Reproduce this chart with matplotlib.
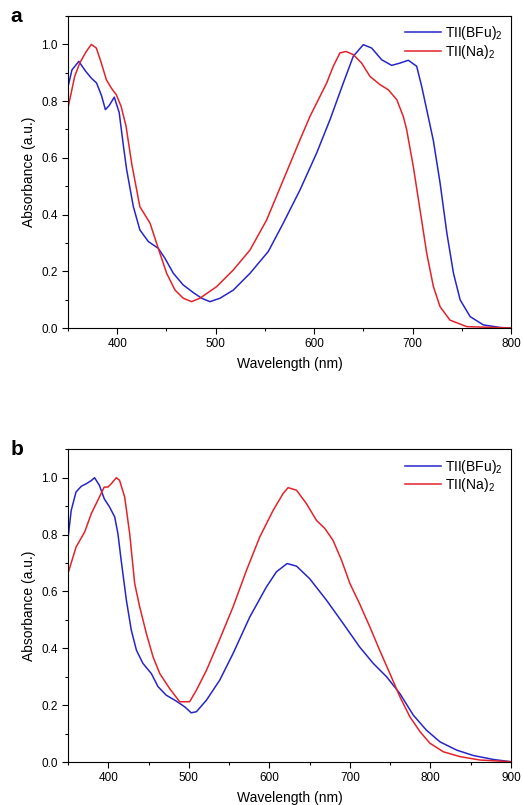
import matplotlib
matplotlib.use("Agg")
import matplotlib.pyplot as plt
from matplotlib.ticker import MultipleLocator, FormatStrFormatter

plt.rcParams['font.family'] = ['Liberation Sans', 'DejaVu Sans']
plt.rcParams['mathtext.fontset'] = 'custom'
plt.rcParams['mathtext.rm'] = 'Liberation Sans'
plt.rcParams['mathtext.it'] = 'Liberation Sans'

# panel a: solution spectra
wl_a_bfu = [350, 354, 361, 368, 374, 379, 384, 388, 392, 397, 402, 406, 409.6, 416.4, 423,
            431.6, 441.7, 448.5, 457, 467, 477.3, 485.8, 494.2, 504.4, 518, 534.9, 553.5,
            568.7, 585.7, 602.6, 616.1, 629.7, 639.8, 650, 658.5, 668.6, 678.8, 687.2,
            695.7, 704.2, 709.3, 714.4, 721.2, 728, 734.9, 741.6, 748.4, 758.6, 772, 789,
            800]
abs_a_bfu = [0.85, 0.91, 0.94, 0.905, 0.88, 0.864, 0.82, 0.77, 0.785, 0.814, 0.76, 0.65,
             0.558, 0.428, 0.346, 0.305, 0.281, 0.246, 0.193, 0.152, 0.125, 0.105, 0.093,
             0.105, 0.134, 0.193, 0.27, 0.37, 0.487, 0.617, 0.734, 0.864, 0.958, 0.999,
             0.987, 0.946, 0.926, 0.934, 0.944, 0.923, 0.852, 0.77, 0.66, 0.511, 0.334,
             0.193, 0.099, 0.04, 0.011, 0.002, 0.0]

wl_a_na = [350, 356.8, 361.9, 368.6, 373.7, 378.8, 383.9, 389, 394, 399, 404, 409, 414.7,
           423, 433.3, 441.7, 450.2, 458.7, 467.1, 475.6, 484, 501, 518, 534.9, 551.8,
           568.7, 585.7, 595.8, 604.3, 612.8, 619.5, 626.3, 632.4, 639.8, 648.3, 656.8,
           667, 675.4, 684, 690.6, 694, 700.8, 707.6, 714.4, 721.2, 728, 738, 755, 800]
abs_a_na = [0.776, 0.887, 0.934, 0.975, 1.0, 0.987, 0.934, 0.875, 0.846, 0.823, 0.781,
            0.711, 0.58, 0.428, 0.37, 0.281, 0.193, 0.134, 0.105, 0.093, 0.105, 0.146,
            0.205, 0.275, 0.381, 0.522, 0.664, 0.746, 0.805, 0.864, 0.923, 0.97, 0.975,
            0.964, 0.934, 0.887, 0.858, 0.84, 0.805, 0.746, 0.70, 0.569, 0.417, 0.264,
            0.146, 0.075, 0.028, 0.005, 0.0]

# panel b: film spectra
wl_b_bfu = [350, 354, 360, 366.6, 372.8, 379, 383, 389, 395, 401.6, 408, 412, 416, 422.5,
            428.6, 435, 443, 453.5, 461.8, 472, 484.6, 495, 503, 509.5, 522, 538.4, 555,
            575.7, 596.4, 608.8, 622, 633.7, 650, 671, 691.7, 712, 729, 745.5, 762,
            778.7, 795, 811.8, 832.5, 853, 878, 900]
abs_b_bfu = [0.786, 0.885, 0.95, 0.97, 0.979, 0.99, 1.0, 0.973, 0.926, 0.897, 0.862,
             0.803, 0.71, 0.569, 0.464, 0.393, 0.347, 0.311, 0.265, 0.235, 0.214, 0.194,
             0.173, 0.177, 0.218, 0.288, 0.382, 0.51, 0.616, 0.669, 0.698, 0.689, 0.645,
             0.569, 0.487, 0.405, 0.347, 0.3, 0.241, 0.165, 0.112, 0.071, 0.042, 0.023,
             0.009, 0.001]

wl_b_na = [350, 360, 370.7, 379, 389, 395, 399.6, 403.8, 410, 414, 420.4, 426.6, 432.8,
           439, 447.3, 455.6, 464, 476, 488.7, 501, 509.5, 522, 538, 555, 571.6, 588,
           604.7, 617, 623.3, 633.7, 646, 658.5, 669, 679, 689.6, 700, 712, 724.8, 737,
           749.7, 762, 774.5, 787, 799.4, 816, 836.6, 861.5, 900]
abs_b_na = [0.663, 0.756, 0.809, 0.874, 0.932, 0.967, 0.967, 0.979, 1.0, 0.991, 0.932,
            0.803, 0.628, 0.546, 0.452, 0.37, 0.311, 0.259, 0.212, 0.212, 0.253, 0.323,
            0.429, 0.546, 0.674, 0.791, 0.885, 0.944, 0.965, 0.956, 0.909, 0.85, 0.821,
            0.78, 0.71, 0.628, 0.557, 0.475, 0.393, 0.311, 0.23, 0.159, 0.107, 0.066,
            0.036, 0.019, 0.007, 0.001]

labels = [r'TII(BFu)$_2$', r'TII(Na)$_2$']
blue = '#2626c8'
red = '#e3222a'

fig = plt.figure(figsize=(5.23, 8.05), dpi=100)
ax1 = fig.add_axes([0.130, 0.5925, 0.847, 0.3876])
ax2 = fig.add_axes([0.130, 0.0534, 0.847, 0.3885])

panels = [(ax1, wl_a_bfu, abs_a_bfu, wl_a_na, abs_a_na, 800, 'a'),
          (ax2, wl_b_bfu, abs_b_bfu, wl_b_na, abs_b_na, 900, 'b')]

for ax, x1, y1, x2, y2, xmax, tag in panels:
    ax.plot(x1, y1, color=blue, lw=1.1, label=labels[0])
    ax.plot(x2, y2, color=red, lw=1.1, label=labels[1])
    ax.set_xlim(350, xmax)
    ax.set_ylim(0, 1.1)
    ax.xaxis.set_major_locator(MultipleLocator(100))
    ax.xaxis.set_minor_locator(MultipleLocator(50))
    ax.yaxis.set_major_locator(MultipleLocator(0.2))
    ax.yaxis.set_minor_locator(MultipleLocator(0.1))
    ax.yaxis.set_major_formatter(FormatStrFormatter('%.1f'))
    ax.tick_params(which='major', direction='out', length=4, width=0.8, labelsize=8.5)
    ax.tick_params(which='minor', direction='out', length=2.5, width=0.8)
    ax.set_xlabel('Wavelength (nm)', fontsize=10, labelpad=5)
    ax.set_ylabel('Absorbance (a.u.)', fontsize=10)
    ax.legend(loc='upper right', frameon=False, fontsize=10, handlelength=2.6,
              handletextpad=0.3, labelspacing=0.05, borderaxespad=0.2)
    ax.text(-0.13, 1.0, tag, transform=ax.transAxes, fontsize=15, fontweight='bold',
            va='center', ha='left')

fig.savefig('out.png', dpi=100)
